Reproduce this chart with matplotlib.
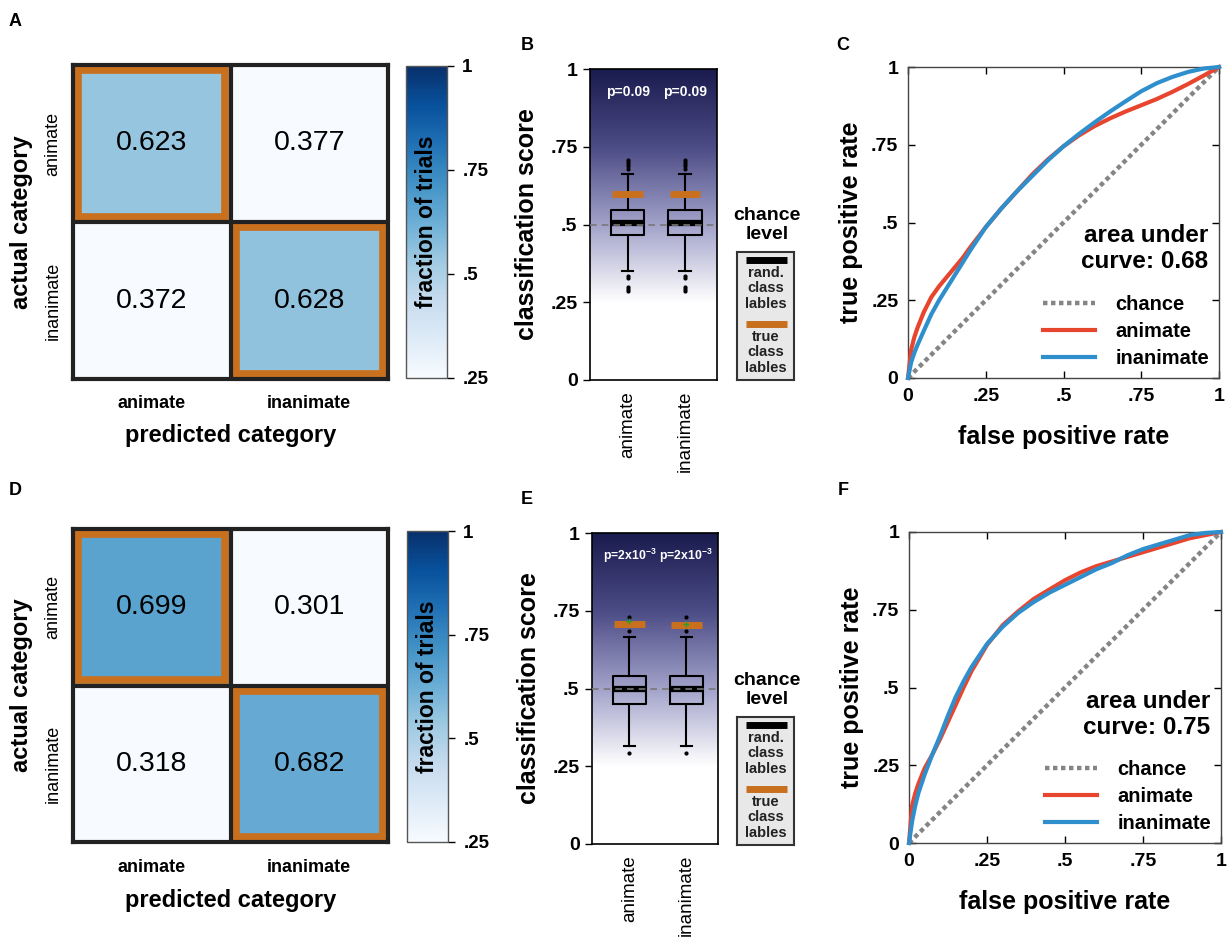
import numpy as np
import matplotlib
matplotlib.use("Agg")
import matplotlib.pyplot as plt
from matplotlib.colors import LinearSegmentedColormap, Normalize
from matplotlib.patches import Rectangle
from matplotlib.cm import ScalarMappable

plt.rcParams['font.family'] = ['Liberation Sans', 'DejaVu Sans']
plt.rcParams['mathtext.fontset'] = 'custom'
plt.rcParams['mathtext.rm'] = 'Liberation Sans'
plt.rcParams['mathtext.bf'] = 'Liberation Sans:bold'

# ---- data ----
categories = ["animate", "inanimate"]

conf_top = [[0.623, 0.377], [0.372, 0.628]]
conf_bot = [[0.699, 0.301], [0.318, 0.682]]

# classification score boxplots (B, E)
q1_top = [0.466, 0.466]
med_top = [0.505, 0.505]
q3_top = [0.547, 0.547]
whislo_top = [0.350, 0.350]
whishi_top = [0.662, 0.662]
fliers_top = [[0.286, 0.292, 0.299, 0.327, 0.333, 0.680, 0.687, 0.694, 0.701, 0.708],
              [0.286, 0.292, 0.299, 0.327, 0.333, 0.680, 0.687, 0.694, 0.701, 0.708]]
true_top = [0.598, 0.598]
p_top = ["p=0.09", "p=0.09"]

q1_bot = [0.450, 0.450]
med_bot = [0.500, 0.500]
q3_bot = [0.540, 0.540]
whislo_bot = [0.315, 0.315]
whishi_bot = [0.666, 0.666]
fliers_bot = [[0.293, 0.685, 0.730], [0.293, 0.685, 0.730]]
true_bot = [0.707, 0.705]
mean_bot = [0.718, 0.706]
p_bot = [r"p=2x10$^{\mathbf{-3}}$", r"p=2x10$^{\mathbf{-3}}$"]

# ROC curves (C, F)
fpr = [0, 0.01, 0.02, 0.03, 0.05, 0.075, 0.1, 0.125, 0.15, 0.175, 0.2, 0.25, 0.3, 0.35,
       0.4, 0.45, 0.5, 0.55, 0.6, 0.65, 0.7, 0.75, 0.8, 0.85, 0.9, 0.95, 1.0]
tpr_top_anim = [0, 0.09, 0.13, 0.16, 0.21, 0.26, 0.295, 0.325, 0.355, 0.385, 0.42, 0.485,
                0.545, 0.60, 0.655, 0.703, 0.745, 0.78, 0.81, 0.835, 0.857, 0.877, 0.897,
                0.92, 0.945, 0.972, 1.0]
tpr_top_inan = [0, 0.05, 0.08, 0.105, 0.15, 0.205, 0.25, 0.29, 0.33, 0.37, 0.41, 0.485,
                0.545, 0.60, 0.65, 0.70, 0.745, 0.785, 0.822, 0.857, 0.89, 0.922, 0.948,
                0.968, 0.984, 0.995, 1.0]
tpr_bot_anim = [0, 0.12, 0.16, 0.19, 0.24, 0.285, 0.335, 0.39, 0.445, 0.50, 0.552, 0.637,
                0.70, 0.745, 0.785, 0.815, 0.845, 0.87, 0.89, 0.905, 0.92, 0.935, 0.95,
                0.965, 0.98, 0.99, 1.0]
tpr_bot_inan = [0, 0.07, 0.12, 0.16, 0.22, 0.285, 0.345, 0.41, 0.47, 0.52, 0.565, 0.64,
                0.695, 0.74, 0.775, 0.805, 0.83, 0.855, 0.88, 0.90, 0.925, 0.945, 0.96,
                0.975, 0.99, 0.997, 1.0]
auc_top = 0.68
auc_bot = 0.75

ORANGE = "#c8701e"
RED = "#e8452f"
BLUE = "#2f8fcd"

W, H = 1227, 939
fig = plt.figure(figsize=(W / 100, H / 100), dpi=100)


def add_ax(x0, y0, x1, y1):
    return fig.add_axes([x0 / W, 1 - y1 / H, (x1 - x0) / W, (y1 - y0) / H])


def ftext(x, y, s, **kw):
    return fig.text(x / W, 1 - y / H, s, **kw)


def heatmap(box, cbox, conf, xlab_y, ticklab_y):
    x0, y0, x1, y1 = box
    ax = add_ax(*box)
    mat = np.array(conf)
    ax.imshow(mat, cmap="Blues", norm=Normalize(0.42, 0.93), aspect="auto")
    ax.set_xticks([])
    ax.set_yticks([])
    for s in ax.spines.values():
        s.set_linewidth(3)
        s.set_color("#222222")
    ax.axhline(0.5, color="#222222", lw=3)
    ax.axvline(0.5, color="#222222", lw=3)
    for i in range(2):
        ax.add_patch(Rectangle((i - 0.5 + 0.033, i - 0.5 + 0.033), 1 - 0.066, 1 - 0.066,
                               fill=False, edgecolor=ORANGE, lw=5.5))
        for j in range(2):
            ax.text(j, i, f"{mat[i, j]:.3f}", ha="center", va="center", fontsize=20.5)
    cw = (x1 - x0) / 2
    ch = (y1 - y0) / 2
    for k, c in enumerate(categories):
        ftext(x0 + cw * (k + 0.5), ticklab_y, c, ha="center", va="center",
              fontsize=13, fontweight="bold")
        ftext(53, y0 + ch * (k + 0.5), c, ha="center", va="center", rotation=90,
              fontsize=13)
    ftext((x0 + x1) / 2, xlab_y, "predicted category", ha="center", va="center",
          fontsize=17, fontweight="bold")
    ftext(22, (y0 + y1) / 2, "actual category", ha="center", va="center", rotation=90,
          fontsize=17, fontweight="bold")
    # colorbar
    cax = add_ax(*cbox)
    sm = ScalarMappable(norm=Normalize(0.25, 1), cmap="Blues")
    cb = fig.colorbar(sm, cax=cax, ticks=[0.25, 0.5, 0.75, 1])
    cb.ax.set_yticklabels([".25", ".5", ".75", "1"], fontsize=13.5, fontweight="bold")
    cb.outline.set_linewidth(1)
    cb.outline.set_edgecolor("#555555")
    cb.ax.tick_params(length=5, width=1, pad=6)
    cax.text(0.5, 0.5, "fraction of trials", transform=cax.transAxes, rotation=90,
             ha="center", va="center", fontsize=16.5, fontweight="bold")


bg_cmap = LinearSegmentedColormap.from_list(
    "bg", [(0.0, "#ffffff"), (0.25, "#ffffff"), (0.5, "#a2a2ca"),
           (0.75, "#4c4c86"), (1.0, "#1a1b4e")])


def boxpanel(box, q1, med, q3, wlo, whi, fliers, true, pvals, pfs, means, legbox, chance_y):
    x0, y0, x1, y1 = box
    ax = add_ax(*box)
    xl = (0.34, 2.56)
    grad = np.linspace(0, 1, 512).reshape(-1, 1)
    ax.imshow(grad, extent=[xl[0], xl[1], 0, 1], origin="lower", aspect="auto",
              cmap=bg_cmap, vmin=0, vmax=1, zorder=0)
    stats = []
    for k in range(2):
        stats.append(dict(q1=q1[k], med=med[k], q3=q3[k], whislo=wlo[k], whishi=whi[k],
                          fliers=np.array(fliers[k]), label=categories[k]))
    ax.bxp(stats, positions=[1, 2], widths=0.58, capwidths=0.2,
           boxprops=dict(color="k", lw=1.5), medianprops=dict(color="k", lw=4.5),
           whiskerprops=dict(color="k", lw=1.5), capprops=dict(color="k", lw=1.5),
           flierprops=dict(marker="o", markersize=2.0, markerfacecolor="k",
                           markeredgecolor="k"), zorder=3)
    ax.axhline(0.5, color="#777777", ls=(0, (4, 3)), lw=1.2, zorder=5)
    for k in range(2):
        ax.hlines(true[k], k + 1 - 0.27, k + 1 + 0.27, color=ORANGE, lw=5, zorder=6)
        ax.text(k + 1, 0.925, pvals[k], ha="center", va="center", color="white",
                fontsize=pfs, fontweight="bold")
    if means is not None:
        ax.plot([1, 2], means, ls="none", marker="+", color="#2ca02c", ms=5, mew=1, zorder=7)
    ax.set_xlim(*xl)
    ax.set_ylim(0, 1)
    ax.set_yticks([0, 0.25, 0.5, 0.75, 1])
    ax.set_yticklabels(["0", ".25", ".5", ".75", "1"], fontsize=14, fontweight="bold")
    ax.set_xticks([1, 2])
    ax.set_xticklabels(categories, rotation=90, fontsize=13.5)
    ax.tick_params(axis="x", length=0, pad=8)
    ax.tick_params(axis="y", length=5, width=1, pad=4)
    for s in ax.spines.values():
        s.set_linewidth(1.2)
    ftext(x0 - 63, (y0 + y1) / 2, "classification score", ha="center", va="center",
          rotation=90, fontsize=18, fontweight="bold")
    # chance-level legend
    ftext(767, chance_y, "chance\nlevel", ha="center", va="center", fontsize=14,
          fontweight="bold", linespacing=1.1)
    lax = add_ax(*legbox)
    lax.set_facecolor("#e8e8e8")
    lax.set_xticks([])
    lax.set_yticks([])
    lax.set_xlim(0, 1)
    lax.set_ylim(0, 1)
    for s in lax.spines.values():
        s.set_linewidth(1.5)
        s.set_color("#333333")
    lax.hlines(0.94, 0.16, 0.88, color="k", lw=5)
    lax.text(0.5, 0.715, "rand.\nclass\nlables", ha="center", va="center", fontsize=10.5,
             fontweight="bold", color="#222222", linespacing=1.1)
    lax.hlines(0.44, 0.16, 0.88, color=ORANGE, lw=5)
    lax.text(0.5, 0.215, "true\nclass\nlables", ha="center", va="center", fontsize=10.5,
             fontweight="bold", color="#222222", linespacing=1.1)


def rocpanel(box, tpr_a, tpr_i, auc, text_y):
    x0, y0, x1, y1 = box
    ax = add_ax(*box)
    ax.plot([0, 1], [0, 1], color="#858585", lw=3.2, ls=(0, (1, 0.8)), label="chance",
            clip_on=False, zorder=2)
    ax.plot(fpr, tpr_a, color=RED, lw=3, label="animate", clip_on=False, zorder=3,
            solid_joinstyle="round")
    ax.plot(fpr, tpr_i, color=BLUE, lw=3, label="inanimate", clip_on=False, zorder=4,
            solid_joinstyle="round")
    ax.set_xlim(0, 1)
    ax.set_ylim(0, 1)
    ticks = [0, 0.25, 0.5, 0.75, 1]
    labs = ["0", ".25", ".5", ".75", "1"]
    ax.set_xticks(ticks)
    ax.set_yticks(ticks)
    ax.set_xticklabels(labs, fontsize=14, fontweight="bold")
    ax.set_yticklabels(labs, fontsize=14, fontweight="bold")
    ax.tick_params(direction="in", top=True, right=True, length=5, width=1, pad=7)
    for s in ax.spines.values():
        s.set_linewidth(1)
        s.set_color("#444444")
    ax.text(0.965, text_y, f"area under\ncurve: {auc:.2f}", transform=ax.transAxes,
            ha="right", va="center", fontsize=17.5, fontweight="bold", linespacing=1.15)
    h, l = ax.get_legend_handles_labels()
    ax.legend(h, l, loc="lower right", frameon=False, prop=dict(weight="bold", size=14.5),
              handlelength=2.6, handletextpad=1.0, labelspacing=0.4, borderaxespad=0.1)
    ftext((x0 + x1) / 2, y1 + 59, "false positive rate", ha="center", va="center",
          fontsize=18, fontweight="bold")
    ftext(x0 - 57, (y0 + y1) / 2, "true positive rate", ha="center", va="center",
          rotation=90, fontsize=18, fontweight="bold")


heatmap((73, 65, 388, 379), (406, 66, 447, 378), conf_top, 436, 403)
heatmap((73, 529, 388, 842), (407, 531, 448, 842), conf_bot, 900, 868)

boxpanel((590, 69, 717, 380), q1_top, med_top, q3_top, whislo_top, whishi_top,
         fliers_top, true_top, p_top, 10, None, (737, 252, 794, 380), 225)
boxpanel((592, 533, 718, 844), q1_bot, med_bot, q3_bot, whislo_bot, whishi_bot,
         fliers_bot, true_bot, p_bot, 8.8, mean_bot, (737, 717, 794, 845), 690)

rocpanel((908, 67, 1219, 378), tpr_top_anim, tpr_top_inan, auc_top, 0.416)
rocpanel((909, 532, 1221, 843), tpr_bot_anim, tpr_bot_inan, auc_bot, 0.413)

for lab, x, y in [("A", 15, 22), ("B", 527, 46), ("C", 843, 46),
                  ("D", 15, 490), ("E", 527, 500), ("F", 843, 490)]:
    ftext(x, y, lab, ha="center", va="center", fontsize=13, fontweight="bold")

fig.savefig("out.png", dpi=100)
